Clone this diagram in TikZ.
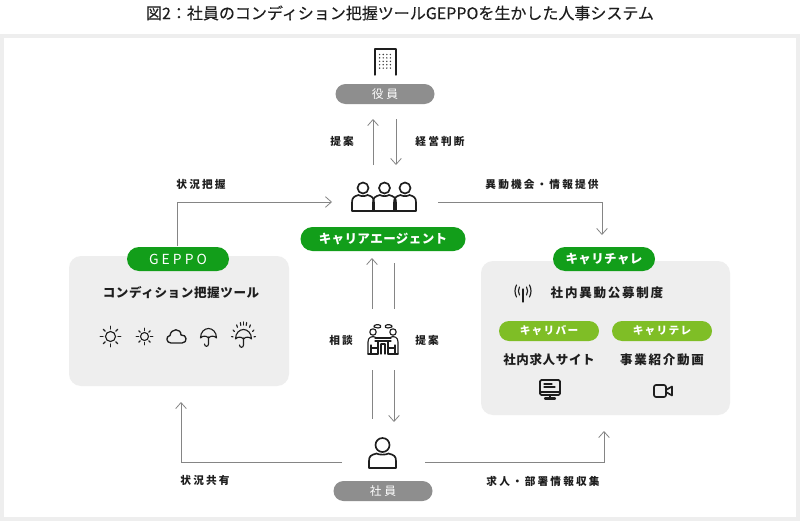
\documentclass[tikz,border=0pt]{standalone}
\usepackage{fontspec}
\setmainfont{Noto Sans CJK JP}
\newfontfamily\fontA[LetterSpace=20]{Noto Sans CJK JP}
\newfontfamily\fontB[LetterSpace=14]{Noto Sans CJK JP}
\newfontfamily\fontC[LetterSpace=5]{Noto Sans CJK JP}
\newfontfamily\fontD[LetterSpace=3]{Noto Sans CJK JP}
\newfontfamily\fontE[LetterSpace=12]{Noto Sans CJK JP}
\newfontfamily\fontF[LetterSpace=22]{Noto Sans CJK JP}
\newfontfamily\fontT[FakeBold=0.2]{Noto Sans CJK JP}
\usetikzlibrary{arrows.meta,calc}
\definecolor{grn}{HTML}{129E1A}
\definecolor{lgrn}{HTML}{7FBE26}
\definecolor{pane}{HTML}{EEEEEE}
\definecolor{gry}{HTML}{8E8E8E}
\definecolor{ink}{HTML}{1E1E1E}
\definecolor{linec}{HTML}{858585}
\tikzset{
 pill/.style={rounded corners=12*0.75pt,minimum height=24*0.75pt,inner sep=0pt,text=white,font=\fontsize{9.4pt}{10pt}\fontD\bfseries},
 gpill/.style={pill,fill=grn,minimum width=102*0.75pt},
 lpill/.style={pill,fill=lgrn,minimum width=100*0.75pt,minimum height=20*0.75pt,rounded corners=10*0.75pt,font=\fontsize{8pt}{9pt}\fontE\bfseries},
 dpill/.style={pill,fill=gry,minimum width=99*0.75pt,minimum height=20*0.75pt,rounded corners=10*0.75pt,font=\fontsize{8.8pt}{9pt}\fontF},
 lab/.style={inner sep=0pt,text=ink,font=\fontsize{8pt}{9pt}\fontA\bfseries},
 head/.style={inner sep=0pt,text=ink,font=\fontsize{9.4pt}{10pt}\fontC\bfseries},
 headw/.style={inner sep=0pt,text=ink,font=\fontsize{9.4pt}{10pt}\fontB\bfseries},
 conn/.style={draw=linec,line width=0.75pt},
 arr/.style={conn,-{Straight Barb[length=4.5pt,width=8pt,line width=0.6pt]}},
 ic/.style={draw=ink,line width=1.25pt,line cap=round,line join=round},
 ict/.style={draw=ink,line width=0.85pt,line cap=round,line join=round},
}
\newcommand{\myperson}[4]{% x, y of head centre, head radius, half width; feet 23 below
 \begin{scope}[shift={(#1,#2)}]
 \draw[ic] (0,0) circle (#3);
 \draw[ic] ({-#3+1},{#3+1.5}) .. controls ({-#4+2},{#3+3}) and ({-#4},{#3+4}) .. ({-#4},{#3+9}) -- (-#4,23) -- (#4,23) -- (#4,{#3+9}) .. controls (#4,{#3+4}) and ({#4-2},{#3+3}) .. ({#3-1},{#3+1.5}) .. controls ({#3-3},{#3+3}) and ({-#3+3},{#3+3}) .. ({-#3+1},{#3+1.5});
 \end{scope}}
\newcommand{\mysun}[3]{% x,y,scale
 \begin{scope}[shift={(#1,#2)},scale=#3]
 \draw[ict] (0,0) circle (5);
 \foreach \a in {0,45,...,315}{\draw[ict] (\a:7.5) -- (\a:10.3);}
 \end{scope}}
\newcommand{\myumb}[2]{%
 \begin{scope}[shift={(#1,#2)}]
 \draw[ict] (-8,1) .. controls (-8,-5) and (-4,-8.5) .. (0,-8.5) .. controls (4,-8.5) and (8,-5) .. (8,1) .. controls (6,-1.5) and (2,-1.5) .. (0,1) .. controls (-2,-1.5) and (-6,-1.5) .. (-8,1) -- cycle;
 \draw[ict] (0,0) -- (0,7) .. controls (0,10) and (-4,10) .. (-4,7);
 \end{scope}}
\begin{document}
\begin{tikzpicture}[x=0.75pt,y=-0.75pt]
\useasboundingbox (0,0) rectangle (800,521);
\fill[white] (0,0) rectangle (800,521);
\draw[draw=pane,line width=3pt] (2,36) rectangle (798,519);

\node[inner sep=0pt,text=ink,font=\fontsize{12pt}{13pt}\fontT] (title) at (400,13) {図2：社員のコンディション把握ツールGEPPOを生かした人事システム};

% panels
\fill[pane,rounded corners=9pt] (69,256) rectangle (289,386);
\fill[pane,rounded corners=9pt] (481,261) rectangle (730,415);

% pills
\node[dpill] (yakuin) at (385,94) {役員};
\node[gpill,minimum width=165*0.75pt] (agent) at (383,239) {キャリアエージェント};
\node[gpill,font=\fontsize{10.4pt}{11pt}\fontF] (geppo) at (178,259) {GEPPO};
\node[gpill] (chare) at (604,259) {キャリチャレ};
\node[lpill] (baa) at (549,331) {キャリバー};
\node[lpill] (tele) at (662,331) {キャリテレ};
\node[dpill] (shain) at (383,491) {社員};

% texts
\node[head] (tool) at (181,293) {コンディション把握ツール};
\node[headw] (koubo) at (607,293) {社内異動公募制度};
\node[head] (kyujin) at (549,360) {社内求人サイト};
\node[headw] (douga) at (662,360) {事業紹介動画};
\node[lab] (l1) at (342,141) {提案};
\node[lab] (l2) at (440,141) {経営判断};
\node[lab] (l3) at (201,184) {状況把握};
\node[lab] (l4) at (542,184) {異動機会・情報提供};
\node[lab] (l5) at (341,340) {相談};
\node[lab] (l6) at (427,340) {提案};
\node[lab] (l7) at (205,480) {状況共有};
\node[lab] (l8) at (543,481) {求人・部署情報収集};

% connector ends
\coordinate (a1s) at (373,165); \coordinate (a1e) at (373,119);
\coordinate (a2s) at (396,119); \coordinate (a2e) at (396,165);
\coordinate (a3s) at (177,246); \coordinate (a3m) at (177,202); \coordinate (a3e) at (332,202);
\coordinate (a4s) at (438,202); \coordinate (a4m) at (602,202); \coordinate (a4e) at (602,235);
\coordinate (a5s) at (372,309); \coordinate (a5e) at (372,258);
\coordinate (a6s) at (394,263); \coordinate (a6e) at (394,309);
\coordinate (a7s) at (372,370); \coordinate (a7e) at (372,419);
\coordinate (a8s) at (394,370); \coordinate (a8e) at (394,422);
\coordinate (a9s) at (342,462); \coordinate (a9m) at (181,462); \coordinate (a9e) at (181,402);
\coordinate (a0s) at (425,462); \coordinate (a0m) at (604,462); \coordinate (a0e) at (604,431);

\draw[arr] (a1s) -- (a1e);
\draw[arr] (a2s) -- (a2e);
\draw[arr] (a3s) -- (a3m) -- (a3e);
\draw[arr] (a4s) -- (a4m) -- (a4e);
\draw[arr] (a5s) -- (a5e);
\draw[conn] (a6s) -- (a6e);
\draw[conn] (a7s) -- (a7e);
\draw[arr] (a8s) -- (a8e);
\draw[arr] (a9s) -- (a9m) -- (a9e);
\draw[arr] (a0s) -- (a0m) -- (a0e);

% building
\draw[ict,line width=1pt] (375,75) -- (375,49) -- (396,49) -- (396,75);
\foreach \i in {0,1,2,3}\foreach \j in {0,1,2,3,4}{\fill[ink!85] (379.6+\i*3.6,54.5+\j*3.4) circle (0.8);}

% group
\myperson{363}{188}{5.5}{11}
\myperson{405}{188}{5.5}{11}
\myperson{384.5}{188}{5.5}{11.5}

% employee
\myperson{382.5}{445}{7}{13.5}

% weather
\mysun{110.5}{336.5}{1}
\mysun{144.5}{336.5}{0.8}
\draw[ict,line width=1pt] (171,343) .. controls (166,343) and (165.5,336) .. (170,335.5) .. controls (171,328) and (181,328) .. (181,335) .. controls (187,334) and (188,343) .. (182,343) -- cycle;
\myumb{208.5}{337}
\myumb{243.5}{338}
\foreach \a in {-175,-150,-125,-105,-90,-75,-55,-30,-5}{\draw[ict] ($(243.5,338)+(\a:10.5 and 13)$) -- ($(243.5,338)+(\a:12 and 16)$);}

% antenna
\draw[ict] (523,289) -- (523,302);
\fill[ink] (523,291) circle (1);
\draw[ict] (519.5,287) .. controls (518,290) and (518,292) .. (519.5,295);
\draw[ict] (526.5,287) .. controls (528,290) and (528,292) .. (526.5,295);
\draw[ict] (516.5,285) .. controls (514.5,289) and (514.5,293) .. (516.5,297);
\draw[ict] (529.5,285) .. controls (531.5,289) and (531.5,293) .. (529.5,297);

% monitor
\draw[ic,rounded corners=1pt] (540,380) rectangle (560,395);
\draw[ict] (540,392) -- (560,392);
\draw[ict] (544,384) -- (552,384) (544,387) -- (555,387);
\draw[ic] (550,395) -- (550,398);
\draw[ic,line width=1.7pt] (545,398.5) -- (555,398.5);

% video
\draw[ic,rounded corners=1.5pt] (654,385) rectangle (666,397);
\draw[ic] (666,390) -- (672,386.5) -- (672,395.5) -- (666,392);

% meeting icon
\begin{scope}[shift={(383,340)}]
\draw[ict] (-10,-8) circle (3.2);
\draw[ict] (10,-8) circle (3.2);
\draw[ict] (-9,-13) .. controls (-10,-15.5) and (-4,-16) .. (-2.5,-14.5) .. controls (-1,-13) and (-3,-12) .. (-5,-12) -- (-9,-13);
\draw[ict] (9,-13) .. controls (10,-15.5) and (4,-16) .. (2.5,-14.5) .. controls (1,-13) and (3,-12) .. (5,-12) -- (9,-13);
\draw[ict] (-8,-2) -- (8,-2) (-8,1) -- (8,1);
\draw[ict] (-5,1) -- (-5,14) (5,1) -- (5,14) (-2,4) -- (-2,14) (2,4) -- (2,14) (-2,4) -- (2,4);
\draw[ict] (-15,14) -- (-15,2) .. controls (-15,-3) and (-11,-4) .. (-8,-3);
\draw[ict] (15,14) -- (15,2) .. controls (15,-3) and (11,-4) .. (8,-3);
\draw[ict] (-15,14) -- (-5,14) (15,14) -- (5,14);
\draw[ict] (-12,5) -- (-12,14) (12,5) -- (12,14) (-12,8) -- (-5,8) (12,8) -- (5,8);
\end{scope}
\end{tikzpicture}
\end{document}
